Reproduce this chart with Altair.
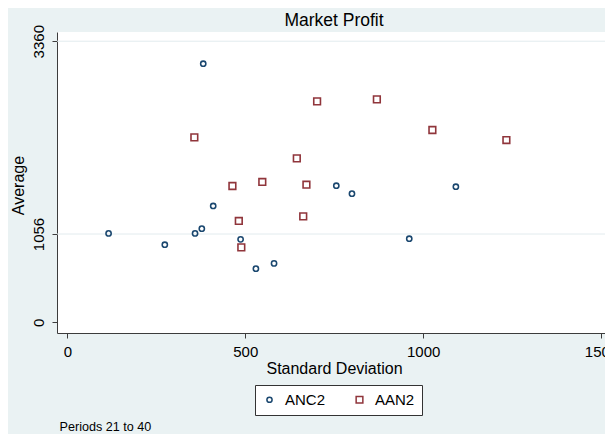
import altair as alt
import pandas as pd

# ---- data ----
anc_x = [116, 274, 359, 378, 410, 487, 530, 581, 756, 800, 961, 1092, 382]
anc_y = [1063, 928, 1063, 1120, 1391, 992, 642, 705, 1633, 1538, 1000, 1621, 3091]
aan_x = [357, 464, 548, 645, 672, 482, 489, 663, 702, 870, 1026, 1234]
aan_y = [2211, 1630, 1678, 1960, 1645, 1212, 896, 1267, 2641, 2665, 2299, 2179]
series_names = ["ANC2", "AAN2"]
series_colors = ["#1a476f", "#90353b"]
x_ticks = [0, 500, 1000, 1500]
y_ticks = [0, 1056, 3360]
grid_values = [1056, 3360]
title_text = ["Market Profit"]
note_text = ["Periods 21 to 40"]

FONT = "Liberation Sans"
W, H = 554, 301

df = pd.DataFrame({
    "sd": anc_x + aan_x,
    "avg": anc_y + aan_y,
    "series": ["ANC2"] * len(anc_x) + ["AAN2"] * len(aan_x),
})

xscale = alt.Scale(domain=[-29, 1528], nice=False, zero=False)
yscale = alt.Scale(domain=[-127, 3470], nice=False, zero=False)

y_axis = alt.Axis(
    values=y_ticks, format="d", title="Average", grid=False,
    tickSize=5, labelPadding=9, labelAngle=270, labelAlign="center",
    labelBaseline="alphabetic", labelFlush=False, labelOverlap=False,
    labelFontSize=15, labelFont=FONT, labelColor="black",
    titleFont=FONT, titleFontSize=16, titleFontWeight="normal", titleColor="black",
    titleAngle=270, titleBaseline="alphabetic", titleX=-33.5, titleY=153,
    domainColor="#3c3c3c", tickColor="#3c3c3c")

x_axis = alt.Axis(
    values=x_ticks, format="d", title="Standard Deviation", grid=False,
    tickSize=5, labelPadding=18, labelBaseline="alphabetic", labelFlush=False,
    labelOverlap=False, labelFontSize=15, labelFont=FONT, labelColor="black",
    titleFont=FONT, titleFontSize=16, titleFontWeight="normal", titleColor="black",
    titleBaseline="alphabetic", titleX=W / 2, titleY=40,
    domainColor="#3c3c3c", tickColor="#3c3c3c")

legend_kw = dict(
    title=None, orient="none", legendX=198, legendY=353, direction="horizontal",
    labelFont=FONT, labelFontSize=15, labelColor="black",
    strokeColor="#333333", fillColor="white", padding=7,
    columnPadding=26, labelOffset=8, symbolSize=12, symbolStrokeWidth=1.5,
)

grid = alt.Chart(pd.DataFrame({"g": grid_values})).mark_rule(
    color="#e2ebee", strokeWidth=1
).encode(y=alt.Y("g:Q", scale=yscale, axis=y_axis))

points = alt.Chart(df).mark_point(filled=False, strokeWidth=1.6, opacity=1).encode(
    x=alt.X("sd:Q", scale=xscale, axis=x_axis),
    y=alt.Y("avg:Q", scale=yscale, axis=y_axis),
    color=alt.Color("series:N", scale=alt.Scale(domain=series_names, range=series_colors),
                    legend=alt.Legend(**legend_kw)),
    shape=alt.Shape("series:N", scale=alt.Scale(domain=series_names, range=["circle", "square"]),
                    legend=alt.Legend(**legend_kw)),
    size=alt.Size("series:N", scale=alt.Scale(domain=series_names, range=[27, 45]), legend=None),
)

title = alt.Chart(pd.DataFrame({"t": title_text})).mark_text(
    font=FONT, fontSize=17.5, color="black", align="center", baseline="alphabetic"
).encode(text="t:N", x=alt.value(W / 2), y=alt.value(-6.3))

note = alt.Chart(pd.DataFrame({"t": note_text})).mark_text(
    font=FONT, fontSize=12.6, color="black", align="left", baseline="alphabetic"
).encode(text="t:N", x=alt.value(2.6), y=alt.value(398.5))

chart = alt.layer(grid, points, title, note).properties(
    width=W, height=H,
    autosize=alt.AutoSizeParams(type="none"),
    padding={"left": 49, "top": 24, "right": -6, "bottom": 101},
    background="#eaf2f3",
).configure_view(fill="white", strokeWidth=0)

chart.save("out.html", embed_options={"renderer": "svg", "actions": False})
